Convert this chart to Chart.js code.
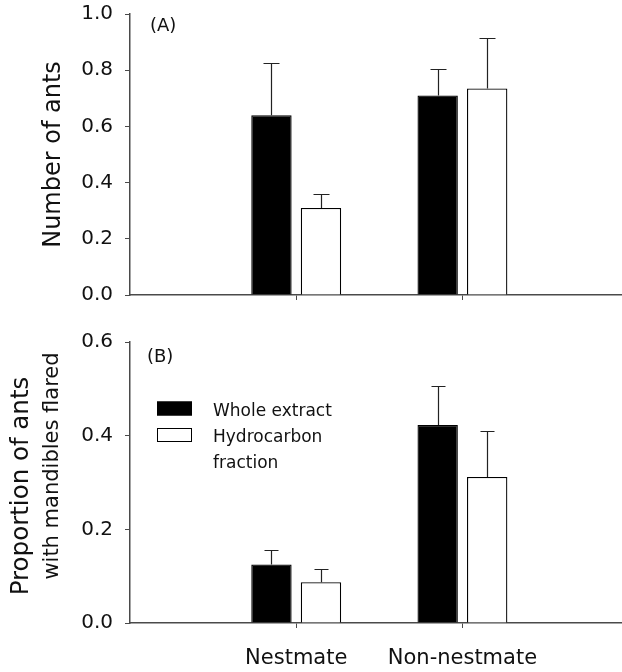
<!DOCTYPE html>
<html><head><meta charset="utf-8">
<script src="https://cdn.jsdelivr.net/npm/chart.js@4/dist/chart.umd.min.js"></script>
<style>
html,body{margin:0;padding:0;background:#fff;overflow:hidden;}
#wrap{position:relative;width:622px;height:672px;background:#fff;}
#cA{position:absolute;left:0;top:0;}
#cB{position:absolute;left:0;top:310px;}
</style></head><body>
<div id="wrap">
<canvas id="cA" width="622" height="310"></canvas>
<canvas id="cB" width="622" height="362"></canvas>
</div>
<script>
// ---------- data ----------
const categories = ['Nestmate', 'Non-nestmate'];
const seriesNames = ['Whole extract', 'Hydrocarbon fraction'];
const seriesColors = ['#000000', '#ffffff'];

// Panel A: Number of ants (mean and +SE)
const antsWhole   = [0.64, 0.71];
const antsWholeSE = [0.185, 0.095];
const antsHydro   = [0.31, 0.735];
const antsHydroSE = [0.05, 0.18];
const ticksA = [0.0, 0.2, 0.4, 0.6, 0.8, 1.0];

// Panel B: Proportion of ants with mandibles flared (mean and +SE)
const flaredWhole   = [0.125, 0.423];
const flaredWholeSE = [0.031, 0.082];
const flaredHydro   = [0.087, 0.312];
const flaredHydroSE = [0.029, 0.097];
const ticksB = [0.0, 0.2, 0.4, 0.6];

// ---------- plugins ----------
const FONT = 'DejaVu Sans';
const AXIS = '#4a4a4a';

const errPlugin = {
  id: 'errbars',
  afterDatasetsDraw(chart, args, opts) {
    const ctx = chart.ctx, ys = chart.scales.y;
    ctx.save();
    ctx.strokeStyle = opts.color; ctx.lineWidth = opts.width;
    chart.data.datasets.forEach((ds, di) => {
      const meta = chart.getDatasetMeta(di);
      const errs = opts.errors[di];
      meta.data.forEach((el, j) => {
        const v = ds.data[j].y;
        const x = Math.round(el.x) + 0.5;
        const yTop = ys.getPixelForValue(v);
        const yE = Math.round(ys.getPixelForValue(v + errs[j])) + 0.5;
        ctx.beginPath();
        ctx.moveTo(x, yTop); ctx.lineTo(x, yE);
        ctx.moveTo(x - opts.cap, yE); ctx.lineTo(x + opts.cap, yE);
        ctx.stroke();
      });
    });
    ctx.restore();
  }
};

function wrapText(ctx, text, maxW) {
  const words = text.split(' '); const lines = []; let cur = '';
  words.forEach(w => {
    const t = cur ? cur + ' ' + w : w;
    if (cur && ctx.measureText(t).width > maxW) { lines.push(cur); cur = w; } else cur = t;
  });
  if (cur) lines.push(cur);
  return lines;
}

const annotPlugin = {
  id: 'annot',
  afterDraw(chart, args, opts) {
    const ctx = chart.ctx, ca = chart.chartArea;
    ctx.save();
    ctx.fillStyle = '#111';
    (opts.titles || []).forEach(t => {
      ctx.save();
      ctx.font = t.size + 'px "' + FONT + '"';
      ctx.textAlign = 'center'; ctx.textBaseline = 'alphabetic';
      ctx.translate(t.x, t.y); ctx.rotate(-Math.PI / 2);
      ctx.fillText(t.text, 0, 0);
      ctx.restore();
    });
    if (opts.panel) {
      ctx.font = '18px "' + FONT + '"';
      ctx.textAlign = 'left'; ctx.textBaseline = 'middle';
      ctx.fillText(opts.panel.text, ca.left + opts.panel.dx, ca.top + opts.panel.dy);
    }
    if (opts.legend) {
      const L = opts.legend;
      ctx.font = '17px "' + FONT + '"';
      ctx.textAlign = 'left'; ctx.textBaseline = 'alphabetic';
      let by = ca.top + L.dy;
      chart.data.datasets.forEach(ds => {
        const bx = ca.left + L.dx;
        ctx.fillStyle = ds.backgroundColor;
        ctx.fillRect(bx, by, L.boxW, L.boxH);
        ctx.strokeStyle = '#000'; ctx.lineWidth = 1;
        ctx.strokeRect(bx + 0.5, by + 0.5, L.boxW - 1, L.boxH - 1);
        ctx.fillStyle = '#111';
        const lines = wrapText(ctx, ds.label, L.maxW);
        lines.forEach((ln, k) => ctx.fillText(ln, bx + L.textDx, by + L.boxH + k * L.lineH));
        by += L.rowH;
      });
    }
    ctx.restore();
  }
};

function makeDatasets(vals) {
  return vals.map((arr, i) => ({
    label: seriesNames[i],
    data: arr.map((v, j) => ({ x: j + 1, y: v })),
    backgroundColor: seriesColors[i],
    borderColor: '#000',
    borderWidth: 1.3,
    categoryPercentage: 0.596,
    barPercentage: 0.815
  }));
}

function xScale(showLabels, height, pad) {
  return {
    type: 'linear', min: 0, max: 2.96, offset: false,
    afterBuildTicks: s => { s.ticks = categories.map((c, i) => ({ value: i + 1 })); },
    afterFit: s => { s.height = height; s.paddingLeft = 0; s.paddingRight = 0; },
    border: { color: AXIS, width: 1.5 },
    grid: { display: true, offset: false, drawOnChartArea: false, drawTicks: true, tickLength: 5, color: AXIS, lineWidth: 1 },
    ticks: {
      display: showLabels, autoSkip: false, maxRotation: 0, padding: pad,
      color: '#111', font: { family: FONT, size: 21 },
      callback: v => categories[v - 1] || ''
    }
  };
}

function yScale(tickVals) {
  return {
    type: 'linear', min: tickVals[0], max: tickVals[tickVals.length - 1],
    afterBuildTicks: s => { s.ticks = tickVals.map(v => ({ value: v })); },
    afterFit: s => { s.width = 130; s.paddingTop = 0; s.paddingBottom = 0; },
    border: { color: AXIS, width: 1.5 },
    grid: { display: true, drawOnChartArea: false, drawTicks: true, tickLength: 5, color: AXIS, lineWidth: 1 },
    ticks: {
      padding: 12, color: '#111', font: { family: FONT, size: 20 },
      callback: v => Number(v).toFixed(1)
    }
  };
}

Chart.defaults.font.family = FONT;

new Chart(document.getElementById('cA'), {
  type: 'bar',
  data: { datasets: makeDatasets([antsWhole, antsHydro]) },
  options: {
    responsive: false, animation: false,
    layout: { padding: { top: 14, left: 0, right: 0, bottom: 0 } },
    scales: { x: xScale(false, 15, 0), y: yScale(ticksA) },
    plugins: {
      legend: { display: false }, tooltip: { enabled: false },
      errbars: { errors: [antsWholeSE, antsHydroSE], color: '#222', width: 1.2, cap: 8 },
      annot: {
        titles: [{ text: 'Number of ants', size: 24, x: 60, y: 154.5 }],
        panel: { text: '(A)', dx: 20, dy: 12 }
      }
    }
  },
  plugins: [errPlugin, annotPlugin]
});

new Chart(document.getElementById('cB'), {
  type: 'bar',
  data: { datasets: makeDatasets([flaredWhole, flaredHydro]) },
  options: {
    responsive: false, animation: false,
    layout: { padding: { top: 32, left: 0, right: 0, bottom: 0 } },
    scales: { x: xScale(true, 49, 18), y: yScale(ticksB) },
    plugins: {
      legend: { display: false }, tooltip: { enabled: false },
      errbars: { errors: [flaredWholeSE, flaredHydroSE], color: '#222', width: 1.2, cap: 7 },
      annot: {
        titles: [
          { text: 'Proportion of ants', size: 24.5, x: 28, y: 176 },
          { text: 'with mandibles flared', size: 21, x: 58, y: 156 }
        ],
        panel: { text: '(B)', dx: 17, dy: 15 },
        legend: { dx: 27, dy: 59.5, boxW: 35, boxH: 14, textDx: 56, lineH: 25.5, rowH: 26.5, maxW: 150 }
      }
    }
  },
  plugins: [errPlugin, annotPlugin]
});
</script>
</body></html>
